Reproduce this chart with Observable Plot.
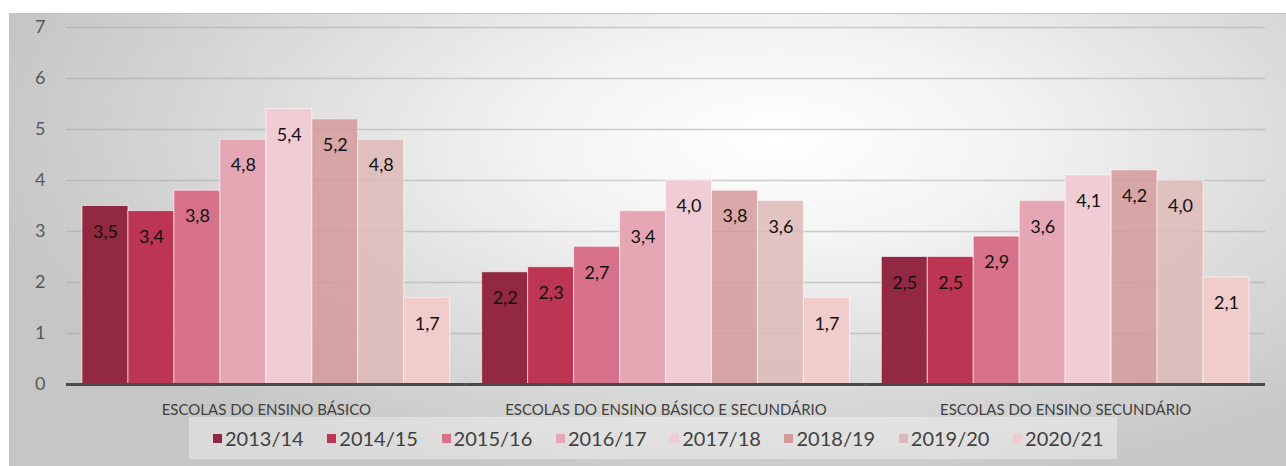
<!DOCTYPE html>
<html><head><meta charset="utf-8">
<script src="https://cdn.jsdelivr.net/npm/d3@7"></script>
<script src="https://cdn.jsdelivr.net/npm/@observablehq/plot@0.6"></script>
<style>
html,body{margin:0;padding:0;background:#fff;width:1286px;height:466px;overflow:hidden;font-family:Lato,"Open Sans",sans-serif}
#frame{position:absolute;left:9px;top:13px;width:1277px;height:453px;border-top:1px solid #c4c4c4;border-left:1px solid #c4c4c4;box-sizing:border-box;
 background:radial-gradient(ellipse 62% 80% at 60% 28%, #ffffff 0%, #f3f3f3 30%, #dcdcdc 65%, #c6c6c6 100%);}
#chart{position:absolute;left:0;top:0}
#legend{position:absolute;left:179px;top:403px;width:928px;height:42px;background:rgba(255,255,255,0.35);display:flex;align-items:center;padding-left:24px;box-sizing:border-box}
.item{width:114.3px;display:flex;align-items:center;font-size:20px;color:#404040;flex:none}
.sw{width:9px;height:9px;margin-right:3px;flex:none}
</style>
</head><body>
<div id="frame"><div id="chart"></div><div id="legend"></div></div>
<script>
const categories = ["ESCOLAS DO ENSINO BÁSICO", "ESCOLAS DO ENSINO BÁSICO E SECUNDÁRIO", "ESCOLAS DO ENSINO SECUNDÁRIO"];
const years = ["2013/14","2014/15","2015/16","2016/17","2017/18","2018/19","2019/20","2020/21"];
const colors = ["#922841","#bc3553","#d8718a","#e6a7b5","#f0ccd5","#d59a9a","#dfb8b9","#f0ccca"];
const basico = [3.5, 3.4, 3.8, 4.8, 5.4, 5.2, 4.8, 1.7];
const basicoSecundario = [2.2, 2.3, 2.7, 3.4, 4.0, 3.8, 3.6, 1.7];
const secundario = [2.5, 2.5, 2.9, 3.6, 4.1, 4.2, 4.0, 2.1];
const yTicks = [0,1,2,3,4,5,6,7];
const translucent = ["2018/19","2019/20"];

const series = [basico, basicoSecundario, secundario];
const data = [];
categories.forEach((c, i) => years.forEach((y, j) => data.push({cat: c, year: y, value: series[i][j]})));
const fmt = v => d3.format(".1f")(v).replace(".", ",");

const chart = Plot.plot({
  width: 1276, height: 405,
  marginLeft: 56, marginRight: 21, marginTop: 13, marginBottom: 35,
  style: {fontFamily: "Lato, 'Open Sans', sans-serif", background: "transparent", overflow: "visible"},
  fx: {domain: categories, padding: 0, round: false},
  x: {domain: years, paddingInner: 0, paddingOuter: 0.348, round: false, axis: null},
  y: {domain: [0, 7], axis: null},
  color: {domain: years, range: colors},
  marks: [
    Plot.gridY(yTicks, {stroke: "#a8a8a8", strokeOpacity: 0.55, strokeWidth: 1.5}),
    Plot.axisY(yTicks, {tickSize: 0, tickPadding: 21, fontSize: 18, fill: "#595959", tickFormat: "d", label: null}),
    Plot.barY(data, {fx: "cat", x: "year", y: "value", fill: "year", inset: 0,
      fillOpacity: d => translucent.includes(d.year) ? 0.85 : 1,
      stroke: "#ffffff", strokeOpacity: 0.6, strokeWidth: 1}),
    Plot.ruleY([0], {stroke: "#4a4a4a", strokeWidth: 3}),
    Plot.text(data, {fx: "cat", x: "year", y: "value", text: d => fmt(d.value), dy: 26, fontSize: 18, fill: "#111"}),
    Plot.axisFx({anchor: "bottom", tickSize: 0, tickPadding: 20, fontSize: 15, fill: "#404040", label: null})
  ]
});
document.getElementById("chart").appendChild(chart);

const legend = d3.select("#legend");
years.forEach((y, i) => {
  const it = legend.append("div").attr("class", "item");
  it.append("div").attr("class", "sw").style("background", colors[i]);
  it.append("span").text(y);
});
</script>
</body></html>
